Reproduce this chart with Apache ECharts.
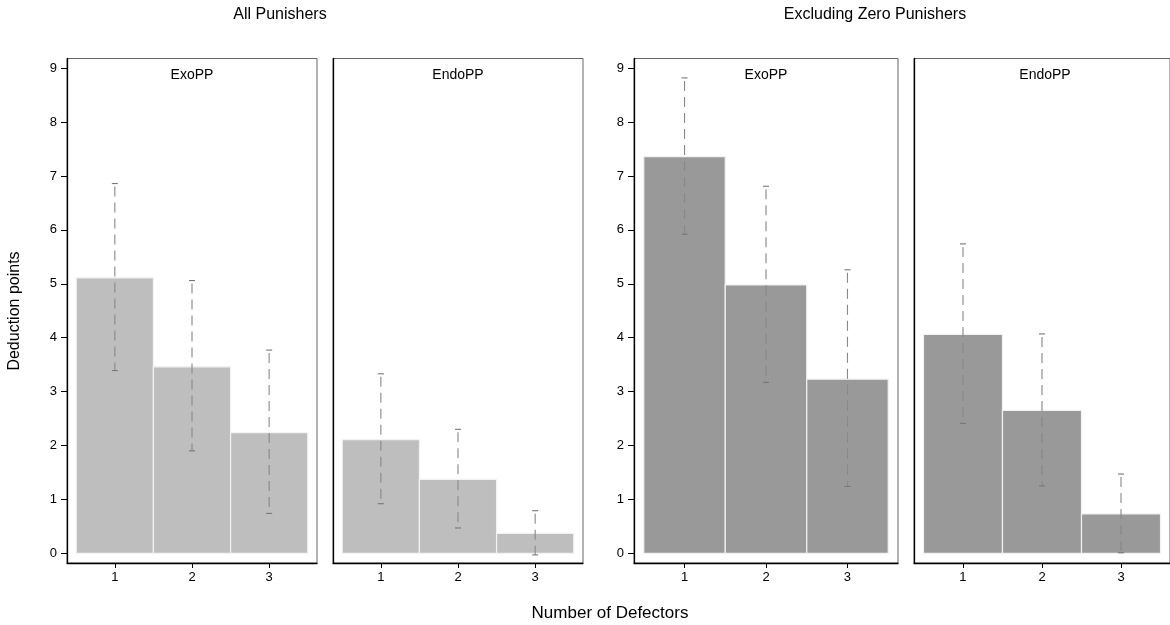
<!DOCTYPE html>
<html>
<head>
<meta charset="utf-8">
<script src="https://cdn.jsdelivr.net/npm/echarts@6/dist/echarts.min.js"></script>
<style>
  html, body { margin: 0; padding: 0; background: #fff; }
  #chart { width: 1170px; height: 625px; }
</style>
</head>
<body>
<div id="chart"></div>
<script>
// Number of defectors in the group
const defectors = [1, 2, 3];
const yTicks = [0, 1, 2, 3, 4, 5, 6, 7, 8, 9];

// All punishers
const allExoMean  = [5.11, 3.46, 2.24];
const allExoHigh  = [6.86, 5.06, 3.77];
const allExoLow   = [3.39, 1.90, 0.74];
const allEndoMean = [2.11, 1.37, 0.37];
const allEndoHigh = [3.33, 2.30, 0.79];
const allEndoLow  = [0.92, 0.47, -0.03];

// Excluding zero punishers
const exclExoMean  = [7.36, 4.98, 3.23];
const exclExoHigh  = [8.82, 6.81, 5.26];
const exclExoLow   = [5.92, 3.17, 1.24];
const exclEndoMean = [4.06, 2.65, 0.73];
const exclEndoHigh = [5.74, 4.07, 1.47];
const exclEndoLow  = [2.41, 1.25, 0.01];

const FONT = 'Liberation Sans, Arial, sans-serif';

const panels = [
  { label: 'ExoPP',  mean: allExoMean,  high: allExoHigh,  low: allExoLow,  color: '#bebebe', left: 67,  width: 250, yLabels: true },
  { label: 'EndoPP', mean: allEndoMean, high: allEndoHigh, low: allEndoLow, color: '#bebebe', left: 333, width: 250, yLabels: false },
  { label: 'ExoPP',  mean: exclExoMean, high: exclExoHigh, low: exclExoLow, color: '#999999', left: 634, width: 264, yLabels: true },
  { label: 'EndoPP', mean: exclEndoMean, high: exclEndoHigh, low: exclEndoLow, color: '#999999', left: 914, width: 264, yLabels: false }
];
// centre of the strip label in each panel (last panel runs past the page edge)
const labelX = [192, 458, 766, 1045];

const GRID_TOP = 58.5, GRID_H = 504.5;

const grid = [], xAxis = [], yAxis = [], series = [], graphic = [];

panels.forEach((p, i) => {
  grid.push({
    left: p.left, top: GRID_TOP, width: p.width, height: GRID_H,
    show: true, borderColor: '#666', borderWidth: 1, backgroundColor: '#fff'
  });
  xAxis.push({
    type: 'value', gridIndex: i, min: 0.38, max: 3.62,
    splitLine: { show: false },
    axisLine: { show: true, onZero: false, lineStyle: { color: '#000', width: 1.3 } },
    axisTick: { show: true, customValues: defectors, length: 5, lineStyle: { color: '#000' } },
    axisLabel: { show: true, customValues: defectors, margin: 8, color: '#000', fontSize: 13, fontFamily: FONT }
  });
  yAxis.push({
    type: 'value', gridIndex: i, min: -0.18, max: 9.18,
    splitLine: { show: false },
    axisLine: { show: true, onZero: false, lineStyle: { color: '#000', width: 1.3 } },
    axisTick: { show: p.yLabels, customValues: yTicks, length: 6, lineStyle: { color: '#000' } },
    axisLabel: { show: p.yLabels, customValues: yTicks, margin: 10, color: '#000', fontSize: 13, fontFamily: FONT }
  });

  // bars: each category fills its full unit width
  series.push({
    type: 'custom', xAxisIndex: i, yAxisIndex: i,
    data: defectors.map((d, k) => [d, p.mean[k]]),
    encode: { x: 0, y: 1 },
    renderItem: (params, api) => {
      const x = api.value(0), v = api.value(1);
      const a = api.coord([x - 0.5, v]);
      const b = api.coord([x + 0.5, 0]);
      return {
        type: 'rect',
        shape: { x: a[0], y: a[1], width: b[0] - a[0], height: b[1] - a[1] },
        style: { fill: p.color, stroke: '#f2f2f2', lineWidth: 1.2 }
      };
    },
    z: 2
  });

  // dashed error bars with end caps
  series.push({
    type: 'custom', xAxisIndex: i, yAxisIndex: i,
    data: defectors.map((d, k) => [d, p.low[k], p.high[k]]),
    encode: { x: 0, y: [1, 2] },
    renderItem: (params, api) => {
      const x = api.value(0);
      const lo = api.coord([x, api.value(1)]);
      const hi = api.coord([x, api.value(2)]);
      const cap = 3;
      const capStyle = { stroke: '#777', lineWidth: 1.1 };
      return {
        type: 'group',
        children: [
          { type: 'line', shape: { x1: hi[0], y1: hi[1] + 3, x2: lo[0], y2: lo[1] },
            style: { stroke: '#888', lineWidth: 1.1, lineDash: [10, 6] } },
          { type: 'line', shape: { x1: hi[0] - cap, y1: hi[1], x2: hi[0] + cap, y2: hi[1] }, style: capStyle },
          { type: 'line', shape: { x1: lo[0] - cap, y1: lo[1], x2: lo[0] + cap, y2: lo[1] }, style: capStyle }
        ]
      };
    },
    z: 3
  });

  graphic.push({
    type: 'text', x: labelX[i], y: 75,
    style: { text: p.label, fill: '#000', font: '14px ' + FONT, textAlign: 'center', textVerticalAlign: 'middle' },
    z: 10
  });
});

graphic.push(
  { type: 'text', x: 280, y: 15,
    style: { text: 'All Punishers', fill: '#000', font: '16px ' + FONT, textAlign: 'center', textVerticalAlign: 'middle' } },
  { type: 'text', x: 875, y: 15,
    style: { text: 'Excluding Zero Punishers', fill: '#000', font: '16px ' + FONT, textAlign: 'center', textVerticalAlign: 'middle' } },
  { type: 'text', x: 610, y: 613,
    style: { text: 'Number of Defectors', fill: '#000', font: '17px ' + FONT, textAlign: 'center', textVerticalAlign: 'middle' } },
  { type: 'text', x: 15, y: 311, rotation: Math.PI / 2,
    style: { text: 'Deduction points', fill: '#000', font: '16px ' + FONT, textAlign: 'center', textVerticalAlign: 'middle' } }
);

const chart = echarts.init(document.getElementById('chart'), null, { renderer: 'canvas' });
chart.setOption({
  animation: false,
  backgroundColor: '#fff',
  grid, xAxis, yAxis, series, graphic
});
</script>
</body>
</html>
